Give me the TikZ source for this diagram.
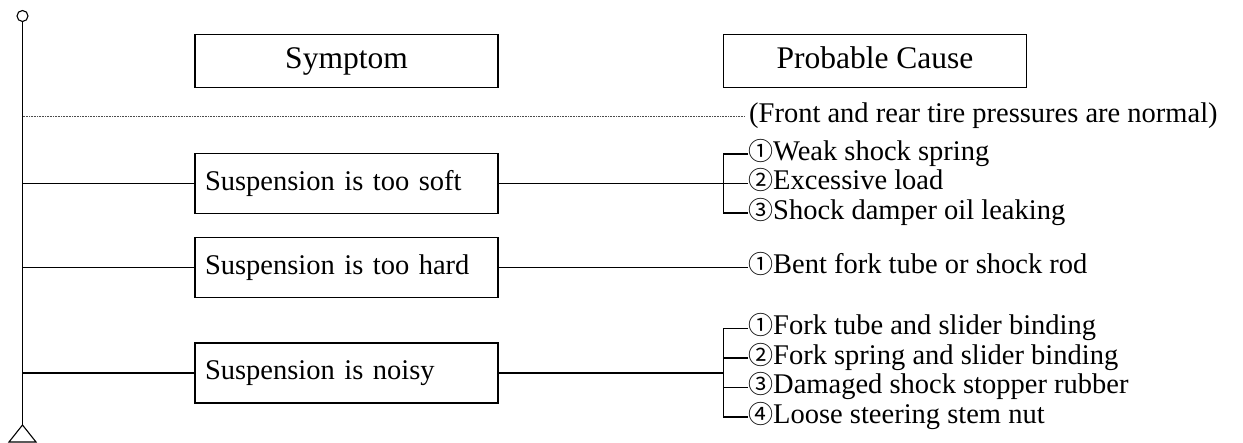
\documentclass[tikz,border=0pt]{standalone}
\usepackage{fontspec}
\setmainfont{Liberation Serif}
\newfontfamily\circfont{Noto Sans CJK JP}
\usetikzlibrary{positioning}
\newcommand{\cnum}[1]{{\circfont\fontsize{25}{29}\selectfont #1}}

\begin{document}
\begin{tikzpicture}[x=1pt, y=-1pt,
    wire/.style={line width=1.1pt},
    hdrbox/.style={draw, line width=1.3pt, inner sep=0pt, minimum width=303pt, minimum height=52.5pt, text height=22pt, text depth=7pt, font=\fontsize{31.5}{36}\selectfont},
    symbox/.style={draw, line width=1.3pt, inner xsep=10pt, inner ysep=0pt, text width=283pt, align=left, minimum height=60pt, font=\fontsize{28.5}{33}\selectfont},
    cause/.style={anchor=west, inner sep=0pt, text height=19pt, text depth=6.5pt, font=\fontsize{28.5}{33}\selectfont},
    noteline/.style={line width=0.6pt, black!70, dash pattern=on 0.8pt off 0.8pt}]
  \useasboundingbox (0,0) rectangle (1243,443);

  % Headings
  \node[hdrbox] (symhead) at (346.5,61) {Symptom};
  \node[hdrbox] (causehead) at (875,61) {Probable Cause};

  % Main spine
  \node[circle, draw, wire, minimum size=11pt, inner sep=0pt] (ring) at (22.5,16) {};
  \coordinate (foot) at (22.5,425);
  \draw[wire] (ring.south) -- (foot);
  \draw[wire] (foot) -- ++(-13.5,17) -- ++(27,0) -- cycle;

  % Condition note
  \node[cause] (note) at (749,116.5) {(Front and rear tire pressures are normal)};
  \draw[noteline] (ring.south |- note.west) -- ([xshift=-4pt]note.west);

  % Suspension is too soft
  \node[symbox] (soft) at (346.5,183.5) {Suspension is too soft};
  \node[cause] (soft1) at (748,154) {\cnum{①}Weak shock spring};
  \node[cause] (soft2) at (748,183.5) {\cnum{②}Excessive load};
  \node[cause] (soft3) at (748,213) {\cnum{③}Shock damper oil leaking};
  \coordinate (softfork) at (723.5,183.5);
  \draw[wire] (ring.south |- soft.west) -- (soft.west);
  \draw[wire] (soft.east) -- (softfork) -- (soft2.west);
  \draw[wire] (soft1.west) -| (softfork) |- (soft3.west);

  % Suspension is too hard
  \node[symbox] (hard) at (346.5,267.5) {Suspension is too hard};
  \node[cause] (hard1) at (748,267.5) {\cnum{①}Bent fork tube or shock rod};
  \draw[wire] (ring.south |- hard.west) -- (hard.west);
  \draw[wire] (hard.east) -- (hard1.west);

  % Suspension is noisy
  \node[symbox] (noisy) at (346.5,373) {Suspension is noisy};
  \node[cause] (noisy1) at (748,328.5) {\cnum{①}Fork tube and slider binding};
  \node[cause] (noisy2) at (748,358) {\cnum{②}Fork spring and slider binding};
  \node[cause] (noisy3) at (748,387.5) {\cnum{③}Damaged shock stopper rubber};
  \node[cause] (noisy4) at (748,417) {\cnum{④}Loose steering stem nut};
  \coordinate (noisyfork) at (723.5,373);
  \draw[wire] (ring.south |- noisy.west) -- (noisy.west);
  \draw[wire] (noisy.east) -- (noisyfork);
  \draw[wire] (noisy1.west) -| (noisyfork) |- (noisy4.west);
  \draw[wire] (noisyfork |- noisy2.west) -- (noisy2.west);
  \draw[wire] (noisyfork |- noisy3.west) -- (noisy3.west);
\end{tikzpicture}
\end{document}
